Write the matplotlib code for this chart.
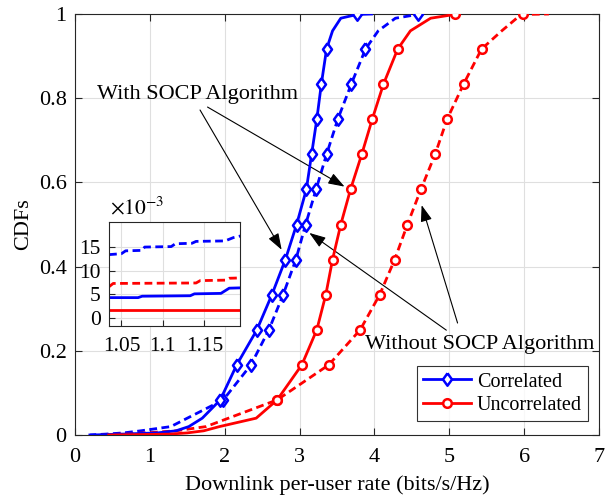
import matplotlib
matplotlib.use('Agg')
import matplotlib.pyplot as plt
from matplotlib.ticker import FuncFormatter

plt.rcParams['font.family'] = ['Liberation Serif', 'DejaVu Serif']
plt.rcParams['mathtext.fontset'] = 'stix'

# ---------------- data ----------------
cdf_levels = [0, 0.002, 0.005, 0.01, 0.02, 0.04,
              1/12, 2/12, 3/12, 4/12, 5/12, 6/12, 7/12, 8/12, 9/12, 10/12, 11/12,
              0.96, 0.99, 0.999, 1.0]
marker_idx = list(range(6, 17)) + [19]

corr_with = [0.22, 0.6, 1.1, 1.35, 1.52, 1.7,
             1.94, 2.16, 2.43, 2.63, 2.81, 2.96, 3.09, 3.16, 3.23, 3.29, 3.36,
             3.44, 3.55, 3.77, 3.96]
corr_without = [0.18, 0.4, 0.65, 0.88, 1.28, 1.5,
                1.98, 2.35, 2.59, 2.78, 2.95, 3.08, 3.22, 3.36, 3.51, 3.69, 3.88,
                4.05, 4.28, 4.58, 4.65]
uncorr_with = [0.45, 1.25, 1.5, 1.72, 1.93, 2.42,
               2.70, 3.03, 3.23, 3.35, 3.44, 3.55, 3.68, 3.83, 3.97, 4.12, 4.31,
               4.48, 4.75, 5.07, 5.12]
uncorr_without = [0.35, 0.6, 0.95, 1.35, 1.75, 2.05,
                  2.70, 3.39, 3.81, 4.07, 4.27, 4.44, 4.62, 4.81, 4.97, 5.19, 5.43,
                  5.70, 5.90, 5.99, 6.33]

# inset (values in units of 1e-3)
inset_cw_x = [1.035, 1.07, 1.075, 1.133, 1.138, 1.17, 1.18, 1.2]
inset_cw_y = [4.3, 4.3, 4.6, 4.7, 5.1, 5.2, 6.3, 6.4]
inset_cwo_x = [1.035, 1.05, 1.055, 1.075, 1.078, 1.11, 1.115, 1.135, 1.14, 1.175, 1.185, 1.2]
inset_cwo_y = [13.4, 13.6, 14.2, 14.3, 15.0, 15.1, 15.7, 15.8, 16.2, 16.3, 17.0, 17.6]
inset_uw_x = [1.035, 1.2]
inset_uw_y = [1.7, 1.7]
inset_uwo_x = [1.035, 1.04, 1.14, 1.145, 1.175, 1.18, 1.2]
inset_uwo_y = [6.6, 7.3, 7.4, 7.9, 8.0, 8.4, 8.5]

x_ticks = [0, 1, 2, 3, 4, 5, 6, 7]
y_ticks = [0, 0.2, 0.4, 0.6, 0.8, 1.0]
inset_xticks = [1.05, 1.1, 1.15]
inset_yticks = [0, 5, 10, 15]

BLUE = (0, 0, 1)
RED = (1, 0, 0)
DASH = (0, (2.8, 1.6))
FS = 16
DIAMOND = [(0, 1), (0.72, 0), (0, -1), (-0.72, 0), (0, 1)]

fig = plt.figure(figsize=(6.07, 5.04), dpi=100)
ax = fig.add_axes([0.1236, 0.1369, 0.8633, 0.8353])

common = dict(lw=2.0, mew=1.8, mfc='white', markevery=marker_idx)
l1, = ax.plot(corr_with, cdf_levels, color=BLUE, marker=DIAMOND, ms=9, **common,
              label='Correlated', zorder=4)
ax.plot(corr_without, cdf_levels, color=BLUE, marker=DIAMOND, ms=9, ls=DASH, **common, zorder=3)
l2, = ax.plot(uncorr_with, cdf_levels, color=RED, marker='o', ms=6.2, **common,
              label='Uncorrelated', zorder=4)
ax.plot(uncorr_without, cdf_levels, color=RED, marker='o', ms=6.2, ls=DASH, **common, zorder=3)

ax.set_xlim(0, 7)
ax.set_ylim(0, 1)
ax.set_xticks(x_ticks)
ax.set_yticks(y_ticks)
ax.yaxis.set_major_formatter(FuncFormatter(lambda v, p: '%g' % v))
ax.grid(True, color='#dfdfdf', lw=0.8)
ax.set_axisbelow(True)
ax.tick_params(direction='in', top=True, right=True, labelsize=FS, length=5,
               color='#262626', width=0.8, pad=6)
ax.tick_params(axis='x', pad=9)
for s in ax.spines.values():
    s.set_color('#262626')
    s.set_linewidth(0.8)
ax.set_xlabel('Downlink per-user rate (bits/s/Hz)', fontsize=FS, labelpad=6)
ax.set_ylabel('CDFs', fontsize=FS, labelpad=4)

leg = ax.legend(handles=[l1, l2], loc='lower right', bbox_to_anchor=(0.979, 0.033),
                fontsize=14.5, frameon=True,
                fancybox=False, edgecolor='black', borderaxespad=0.0,
                handlelength=2.4, handletextpad=0.3, borderpad=0.3,
                labelspacing=0.22)
leg.get_frame().set_linewidth(0.8)

arrow_kw = dict(arrowstyle='-|>,head_length=1.0,head_width=0.35', color='black',
                lw=0.8, shrinkA=0, shrinkB=0)
ax.text(1.64, 0.808, 'With SOCP Algorithm', fontsize=FS, ha='center', va='center')
ax.annotate('', xy=(2.76, 0.44), xytext=(1.67, 0.772), arrowprops=arrow_kw)
ax.annotate('', xy=(3.60, 0.59), xytext=(1.77, 0.779), arrowprops=arrow_kw)
ax.text(5.41, 0.214, 'Without SOCP Algorithm', fontsize=FS, ha='center', va='center')
ax.annotate('', xy=(3.13, 0.48), xytext=(4.96, 0.249), arrowprops=arrow_kw)
ax.annotate('', xy=(4.63, 0.546), xytext=(5.11, 0.266), arrowprops=arrow_kw)

# inset
ins = fig.add_axes([0.1796, 0.3532, 0.2158, 0.2063])
ins.plot(inset_cwo_x, inset_cwo_y, color=BLUE, lw=2.0, ls=DASH)
ins.plot(inset_uwo_x, inset_uwo_y, color=RED, lw=2.0, ls=DASH)
ins.plot(inset_cw_x, inset_cw_y, color=BLUE, lw=2.0)
ins.plot(inset_uw_x, inset_uw_y, color=RED, lw=2.0)
ins.set_xlim(1.035, 1.193)
ins.set_ylim(-1.7, 20.3)
ins.set_xticks(inset_xticks)
ins.set_xticklabels(['1.05', '1.1', '1.15'])
ins.set_yticks(inset_yticks)
ins.grid(True, color='#dfdfdf', lw=0.8)
ins.set_axisbelow(True)
ins.tick_params(direction='in', labelsize=15.5, length=4, color='#262626', width=0.8,
                pad=8)
ins.tick_params(axis='y', pad=6)
for s in ins.spines.values():
    s.set_color('#262626')
    s.set_linewidth(0.8)
ins.text(0.01, 1.03, r'$\times10^{-3}$', transform=ins.transAxes, fontsize=15.5,
         ha='left', va='bottom')

fig.savefig('out.png', dpi=100)
